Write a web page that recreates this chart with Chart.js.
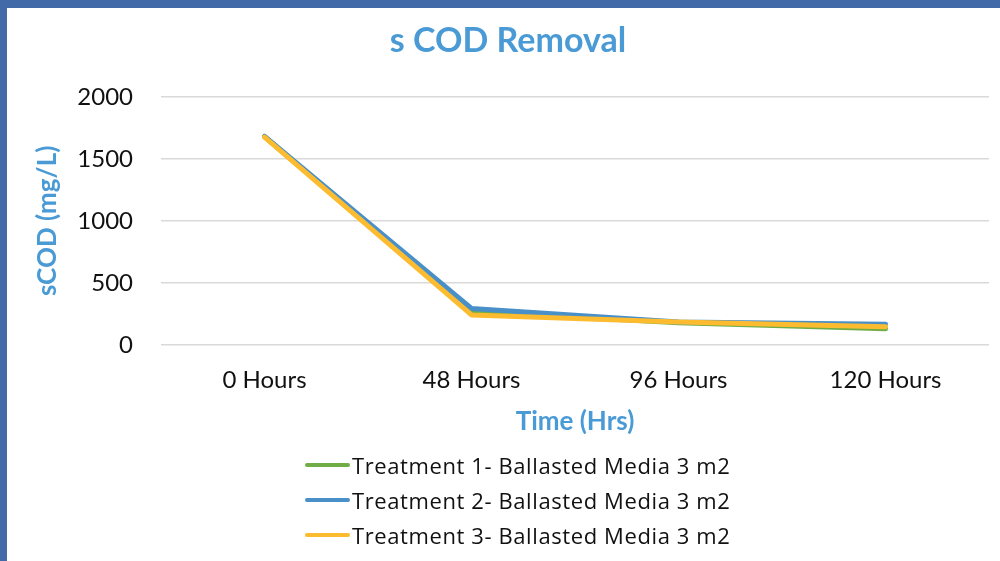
<!DOCTYPE html>
<html>
<head>
<meta charset="utf-8">
<script src="https://cdn.jsdelivr.net/npm/chart.js@4/dist/chart.umd.min.js"></script>
<style>
  html, body { margin: 0; padding: 0; background: #fff; }
  body { width: 1000px; height: 561px; position: relative; overflow: hidden; }
  .frame-top { position: absolute; left: 0; top: 0; width: 1000px; height: 8px; background: #426aa8; }
  .frame-left { position: absolute; left: 0; top: 0; width: 7px; height: 561px; background: #426aa8; }
  #wrap { position: absolute; left: 7px; top: 8px; width: 993px; height: 553px; }
  #legend { position: absolute; left: 305px; top: 447px; font-family: 'Open Sans', sans-serif; font-size: 22px; letter-spacing: 0.6px; color: #111; }
  #legend .item { display: flex; align-items: center; height: 35px; }
  #legend .swatch { width: 45px; height: 4px; border-radius: 2px; margin-right: 2px; }
</style>
</head>
<body>
<div class="frame-top"></div>
<div class="frame-left"></div>
<div id="wrap"><canvas id="codChart"></canvas></div>
<div id="legend"></div>
<script>
const timeLabels = ['0 Hours', '48 Hours', '96 Hours', '120 Hours'];
const treatment1 = [1680, 270, 180, 130];
const treatment2 = [1680, 295, 185, 168];
const treatment3 = [1675, 242, 185, 148];
const seriesNames = [
  'Treatment 1- Ballasted Media 3 m2',
  'Treatment 2- Ballasted Media 3 m2',
  'Treatment 3- Ballasted Media 3 m2'
];
const seriesColors = ['#70ad47', '#4a90c8', '#fdbb30'];

const ctx = document.getElementById('codChart').getContext('2d');
const codChart = new Chart(ctx, {
  type: 'line',
  data: {
    labels: timeLabels,
    datasets: [
      { label: seriesNames[0], data: treatment1, borderColor: seriesColors[0], backgroundColor: seriesColors[0], order: 2 },
      { label: seriesNames[1], data: treatment2, borderColor: seriesColors[1], backgroundColor: seriesColors[1], order: 1 },
      { label: seriesNames[2], data: treatment3, borderColor: seriesColors[2], backgroundColor: seriesColors[2], order: 0 }
    ]
  },
  options: {
    responsive: true,
    maintainAspectRatio: false,
    animation: false,
    elements: {
      line: { borderWidth: 5, tension: 0, borderCapStyle: 'round', borderJoinStyle: 'round' },
      point: { radius: 0 }
    },
    layout: { padding: { left: 20, right: 11, top: 0, bottom: 124 } },
    plugins: {
      legend: { display: false },
      tooltip: { enabled: false },
      title: {
        display: true,
        text: 's COD Removal',
        color: '#4a9bd5',
        font: { family: 'Lato', size: 34, weight: 'bold' },
        padding: { top: 13, bottom: 35 }
      }
    },
    scales: {
      x: {
        offset: true,
        grid: { display: false, drawTicks: false },
        border: { display: false },
        ticks: { color: '#111', font: { family: 'Lato', size: 24 }, padding: 21 },
        title: {
          display: true,
          text: 'Time (Hrs)',
          color: '#4a9bd5',
          font: { family: 'Lato', size: 26, weight: 'bold' },
          padding: { top: 0, bottom: 0 }
        },
        afterFit: (scale) => { scale.height = 92; }
      },
      y: {
        min: 0,
        max: 2000,
        ticks: {
          stepSize: 500,
          color: '#111',
          font: { family: 'Lato', size: 24 },
          padding: 28,
          callback: (v) => String(v)
        },
        grid: { color: '#d9d9d9', lineWidth: 1.5, drawTicks: false },
        border: { display: false },
        title: {
          display: true,
          text: 'sCOD (mg/L)',
          color: '#4a9bd5',
          font: { family: 'Lato', size: 26, weight: 'bold' },
          padding: { top: 5, bottom: 0 }
        },
        afterFit: (scale) => { scale.width = 134; }
      }
    }
  }
});

// legend stacked one entry per row, built from the chart's datasets
const legendEl = document.getElementById('legend');
codChart.data.datasets.forEach((ds) => {
  const row = document.createElement('div');
  row.className = 'item';
  const sw = document.createElement('span');
  sw.className = 'swatch';
  sw.style.background = ds.borderColor;
  const txt = document.createElement('span');
  txt.textContent = ds.label;
  row.appendChild(sw);
  row.appendChild(txt);
  legendEl.appendChild(row);
});
</script>
</body>
</html>
